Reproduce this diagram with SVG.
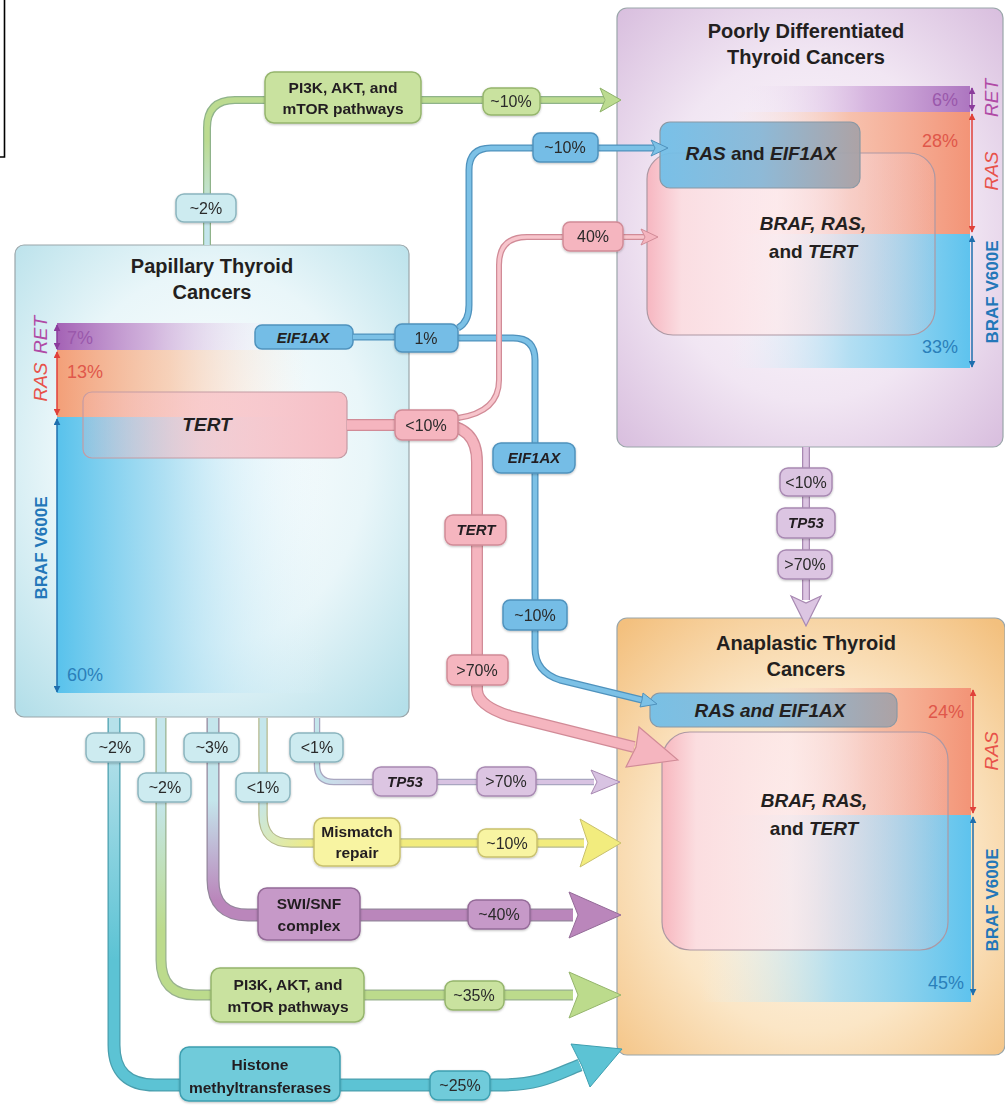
<svg xmlns="http://www.w3.org/2000/svg" xmlns:xlink="http://www.w3.org/1999/xlink" width="1005" height="1114" viewBox="0 0 1005 1114">
<defs>
<style>
text{font-family:"Liberation Sans",Arial,sans-serif;}
.title{font-size:20px;font-weight:bold;fill:#231f20;text-anchor:middle}
.lbl{font-size:16px;fill:#2a2a2a;text-anchor:middle}
.bl{font-size:15.5px;font-weight:bold;fill:#231f20;text-anchor:middle}
.bi{font-size:15px;font-weight:bold;font-style:italic;fill:#231f20;text-anchor:middle}
.big{font-size:19px;font-weight:bold;fill:#231f20;text-anchor:middle}
.pct{font-size:18px}
.vi{font-size:19px;font-style:italic;text-anchor:middle}
.vb{font-size:17px;font-weight:bold;text-anchor:middle}
.box{stroke:#9aa6aa;stroke-width:1.2}
.pc{fill:#cdebf0;stroke:#8bb5be;stroke-width:1.5}
.pb{fill:#74bde6;stroke:#4f92bd;stroke-width:1.5}
.pp{fill:#f5b5bf;stroke:#d18b97;stroke-width:1.5}
.pg{fill:#c9e29f;stroke:#95b56c;stroke-width:1.5}
.pl{fill:#dcc5e2;stroke:#a889b2;stroke-width:1.5}
.py{fill:#f8f4a2;stroke:#c9c16e;stroke-width:1.5}
.pv{fill:#c699c8;stroke:#946b98;stroke-width:1.5}
.pt{fill:#6fcbda;stroke:#3e9fb0;stroke-width:1.5}
.ln{fill:none;stroke-linecap:butt;stroke-linejoin:round}
</style>
<radialGradient id="gPtc" cx="50%" cy="45%" r="72%">
<stop offset="0" stop-color="#ffffff"/><stop offset="0.55" stop-color="#e9f6f9"/><stop offset="1" stop-color="#b4dfe9"/>
</radialGradient>
<radialGradient id="gPdtc" cx="50%" cy="50%" r="72%">
<stop offset="0" stop-color="#fdfafd"/><stop offset="0.55" stop-color="#f1e6f3"/><stop offset="1" stop-color="#d7bcdd"/>
</radialGradient>
<radialGradient id="gAtc" cx="50%" cy="55%" r="72%">
<stop offset="0" stop-color="#fef9f1"/><stop offset="0.55" stop-color="#fbe6c6"/><stop offset="1" stop-color="#f3c07e"/>
</radialGradient>
<linearGradient id="bRetL" x1="0" x2="1"><stop offset="0" stop-color="#a462b5"/><stop offset="0.4" stop-color="#c9a0d4" stop-opacity="0.8"/><stop offset="1" stop-color="#f3e8f6" stop-opacity="0"/></linearGradient>
<linearGradient id="bRasL" x1="0" x2="1"><stop offset="0" stop-color="#f39f78"/><stop offset="0.45" stop-color="#f7c7a9" stop-opacity="0.8"/><stop offset="1" stop-color="#fbe9dc" stop-opacity="0"/></linearGradient>
<linearGradient id="bBrafL" x1="0" x2="1"><stop offset="0" stop-color="#58c2ec"/><stop offset="0.4" stop-color="#a3dbf1" stop-opacity="0.85"/><stop offset="1" stop-color="#e5f5fb" stop-opacity="0"/></linearGradient>
<linearGradient id="bRetR" x1="1" x2="0"><stop offset="0" stop-color="#ad76c0"/><stop offset="0.45" stop-color="#cfa8da" stop-opacity="0.8"/><stop offset="1" stop-color="#f3e8f6" stop-opacity="0"/></linearGradient>
<linearGradient id="bRasR" x1="1" x2="0"><stop offset="0" stop-color="#f39477"/><stop offset="0.5" stop-color="#f7b9a0" stop-opacity="0.85"/><stop offset="1" stop-color="#fbe3da" stop-opacity="0"/></linearGradient>
<linearGradient id="bBrafR" x1="1" x2="0"><stop offset="0" stop-color="#5ec3ee"/><stop offset="0.5" stop-color="#a7dcf2" stop-opacity="0.85"/><stop offset="1" stop-color="#e6f5fb" stop-opacity="0"/></linearGradient>
<linearGradient id="gTert" x1="0" x2="1"><stop offset="0" stop-color="#f4b3bb" stop-opacity="0.2"/><stop offset="0.45" stop-color="#f8c4ca" stop-opacity="0.75"/><stop offset="1" stop-color="#f6bec5"/></linearGradient>
<linearGradient id="gBrt" x1="0" x2="1"><stop offset="0" stop-color="#f7b4be" stop-opacity="0.95"/><stop offset="0.12" stop-color="#fbdde1" stop-opacity="0.95"/><stop offset="0.45" stop-color="#fde9ec" stop-opacity="0.8"/><stop offset="1" stop-color="#f1c9d2" stop-opacity="0.15"/></linearGradient>
<linearGradient id="gRe" x1="0" x2="1"><stop offset="0" stop-color="#72bfe8"/><stop offset="0.5" stop-color="#88b7d6"/><stop offset="1" stop-color="#a9a1a5"/></linearGradient>
<linearGradient id="lnTop" gradientUnits="userSpaceOnUse" x1="0" y1="215" x2="0" y2="140"><stop offset="0" stop-color="#c4e6ec"/><stop offset="1" stop-color="#bcdb90"/></linearGradient>
<linearGradient id="lnTp" gradientUnits="userSpaceOnUse" x1="317" y1="770" x2="380" y2="782"><stop offset="0" stop-color="#c4e6ec"/><stop offset="1" stop-color="#d8c3e2"/></linearGradient>
<linearGradient id="lnMm" gradientUnits="userSpaceOnUse" x1="263" y1="795" x2="320" y2="843"><stop offset="0" stop-color="#c4e6ec"/><stop offset="1" stop-color="#f2ec7e"/></linearGradient>
<linearGradient id="lnSw" gradientUnits="userSpaceOnUse" x1="0" y1="800" x2="0" y2="900"><stop offset="0" stop-color="#c4e6ec"/><stop offset="1" stop-color="#ba86bb"/></linearGradient>
<linearGradient id="lnPi" gradientUnits="userSpaceOnUse" x1="0" y1="800" x2="0" y2="930"><stop offset="0" stop-color="#c4e6ec"/><stop offset="1" stop-color="#bcdb8c"/></linearGradient>
<linearGradient id="lnHi" gradientUnits="userSpaceOnUse" x1="0" y1="740" x2="0" y2="960"><stop offset="0" stop-color="#b6e1ea"/><stop offset="1" stop-color="#5cc3d4"/></linearGradient>
<marker id="mRet" viewBox="0 0 10 10" refX="9" refY="5" markerWidth="7" markerHeight="7" markerUnits="userSpaceOnUse" orient="auto-start-reverse"><path d="M0,0 L10,5 L0,10 z" fill="#8b3c9c"/></marker>
<marker id="mRas" viewBox="0 0 10 10" refX="9" refY="5" markerWidth="7" markerHeight="7" markerUnits="userSpaceOnUse" orient="auto-start-reverse"><path d="M0,0 L10,5 L0,10 z" fill="#e0413a"/></marker>
<marker id="mBraf" viewBox="0 0 10 10" refX="9" refY="5" markerWidth="7" markerHeight="7" markerUnits="userSpaceOnUse" orient="auto-start-reverse"><path d="M0,0 L10,5 L0,10 z" fill="#1f6fae"/></marker>
<filter id="sh" x="-10%" y="-10%" width="120%" height="130%"><feDropShadow dx="0" dy="1" stdDeviation="1.2" flood-color="#000" flood-opacity="0.25"/></filter>
<path id="c1" d="M207,245 V128 Q207,100 235,100 H604"/>
<path id="c0" d="M353,337 H395"/>
<path id="c2" d="M458,328 Q469,322 469,305 V170 Q469,148 491,148 H655"/>
<path id="c3" d="M458,338 H513 Q535,338 535,360 V648 Q535,672 560,680 L642,700"/>
<path id="c4" d="M458,418 Q499,412 499,380 V265 Q499,237 527,237 H646"/>
<path id="c5" d="M347,425 H440 Q477,425 477,462 V690 Q478,706 510,716 L634,747"/>
<path id="c6" d="M806,447 V600"/>
<path id="c7" d="M317,718 V765 Q317,782 334,782 H594"/>
<path id="c8" d="M263,718 V815 Q263,843 291,843 H584"/>
<path id="c9" d="M213,718 V880 Q213,915 248,915 H573"/>
<path id="c10" d="M161,718 V960 Q161,995 196,995 H573"/>
<path id="c11" d="M114,718 V1045 Q114,1085 155,1085 H500 C540,1085 555,1075 580,1065"/>
</defs>

<rect width="1005" height="1114" fill="#ffffff"/>
<path d="M0,157 H4.5 V0" fill="none" stroke="#000" stroke-width="1.6"/>

<!-- Cancer boxes -->
<g id="ptc">
<rect class="box" x="15" y="245" width="394" height="472" rx="9" fill="url(#gPtc)"/>
<text class="title" x="212" y="273">Papillary Thyroid</text>
<text class="title" x="212" y="299">Cancers</text>
<rect x="57" y="323" width="230" height="27" fill="url(#bRetL)"/>
<rect x="57" y="350" width="250" height="67" fill="url(#bRasL)"/>
<rect x="57" y="417" width="270" height="276" fill="url(#bBrafL)"/>
<line x1="57" y1="325" x2="57" y2="349" stroke="#8b3c9c" stroke-width="1.5" marker-start="url(#mRet)" marker-end="url(#mRet)"/>
<line x1="57" y1="352" x2="57" y2="415" stroke="#e0413a" stroke-width="1.5" marker-start="url(#mRas)" marker-end="url(#mRas)"/>
<line x1="57" y1="419" x2="57" y2="692" stroke="#1f6fae" stroke-width="1.5" marker-start="url(#mBraf)" marker-end="url(#mBraf)"/>
<text class="pct" x="67" y="344" fill="#9a58ab">7%</text>
<text class="pct" x="67" y="378" fill="#e0574a">13%</text>
<text class="pct" x="67" y="681" fill="#2a7fba">60%</text>
<text class="vi" transform="translate(47,335) rotate(-90)" fill="#b04aa6">RET</text>
<text class="vi" transform="translate(47,382) rotate(-90)" fill="#e8524a">RAS</text>
<text class="vb" transform="translate(47,548) rotate(-90)" fill="#2377b9">BRAF V600E</text>
</g>

<g id="ptc-tert">
<rect x="83" y="392" width="264" height="66" rx="9" fill="url(#gTert)" stroke="#c49ba4" stroke-width="1.2"/>
<text class="big" x="207" y="431" font-style="italic" font-size="20">TERT</text>
</g>
<g id="ptc-eif1ax">
<rect class="pb" x="255" y="325" width="98" height="24" rx="7"/>
<text class="bi" x="303" y="343" font-size="16">EIF1AX</text>
</g>

<g id="pdtc">
<rect class="box" x="617" y="8" width="386" height="439" rx="10" fill="url(#gPdtc)"/>
<text class="title" x="806" y="38">Poorly Differentiated</text>
<text class="title" x="806" y="64">Thyroid Cancers</text>
<rect x="740" y="86" width="230" height="26" fill="url(#bRetR)"/>
<rect x="730" y="112" width="240" height="122" fill="url(#bRasR)"/>
<rect x="730" y="234" width="240" height="134" fill="url(#bBrafR)"/>
<line x1="972" y1="88" x2="972" y2="111" stroke="#8b3c9c" stroke-width="1.5" marker-start="url(#mRet)" marker-end="url(#mRet)"/>
<line x1="972" y1="114" x2="972" y2="232" stroke="#e0413a" stroke-width="1.5" marker-start="url(#mRas)" marker-end="url(#mRas)"/>
<line x1="972" y1="236" x2="972" y2="367" stroke="#1f6fae" stroke-width="1.5" marker-start="url(#mBraf)" marker-end="url(#mBraf)"/>
<text class="pct" x="958" y="106" fill="#9a58ab" text-anchor="end">6%</text>
<text class="pct" x="958" y="147" fill="#e0574a" text-anchor="end">28%</text>
<text class="pct" x="958" y="353" fill="#2a7fba" text-anchor="end">33%</text>
<text class="vi" transform="translate(998,98) rotate(-90)" fill="#b04aa6">RET</text>
<text class="vi" transform="translate(998,171) rotate(-90)" fill="#e8524a">RAS</text>
<text class="vb" transform="translate(998,292) rotate(-90)" fill="#2377b9">BRAF V600E</text>
</g>
<g id="pdtc-braf">
<rect x="647" y="153" width="288" height="182" rx="26" fill="url(#gBrt)" stroke="#ad98a3" stroke-width="1.2"/>
<text class="big" x="813" y="230" font-style="italic">BRAF, RAS,</text>
<text class="big" x="813" y="258">and <tspan font-style="italic">TERT</tspan></text>
</g>
<g id="pdtc-ras">
<rect x="660" y="122" width="200" height="66" rx="10" fill="url(#gRe)" fill-opacity="0.95" stroke="#8a98a4" stroke-width="1.2"/>
<text class="big" x="761" y="160" font-size="17"><tspan font-style="italic">RAS</tspan> and <tspan font-style="italic">EIF1AX</tspan></text>
</g>

<g id="atc">
<rect class="box" x="617" y="618" width="388" height="437" rx="10" fill="url(#gAtc)"/>
<text class="title" x="806" y="650">Anaplastic Thyroid</text>
<text class="title" x="806" y="676">Cancers</text>
<rect x="760" y="688" width="211" height="127" fill="url(#bRasR)"/>
<rect x="700" y="815" width="271" height="187" fill="url(#bBrafR)"/>
<line x1="973" y1="690" x2="973" y2="813" stroke="#e0413a" stroke-width="1.5" marker-start="url(#mRas)" marker-end="url(#mRas)"/>
<line x1="973" y1="817" x2="973" y2="995" stroke="#1f6fae" stroke-width="1.5" marker-start="url(#mBraf)" marker-end="url(#mBraf)"/>
<text class="pct" x="964" y="718" fill="#e0574a" text-anchor="end">24%</text>
<text class="pct" x="964" y="989" fill="#2a7fba" text-anchor="end">45%</text>
<text class="vi" transform="translate(998,751) rotate(-90)" fill="#e8524a">RAS</text>
<text class="vb" transform="translate(998,900) rotate(-90)" fill="#2377b9">BRAF V600E</text>
</g>
<g id="atc-braf">
<rect x="662" y="732" width="286" height="218" rx="28" fill="url(#gBrt)" stroke="#ad98a3" stroke-width="1.2"/>
<text class="big" x="814" y="807" font-style="italic">BRAF, RAS,</text>
<text class="big" x="814" y="835">and <tspan font-style="italic">TERT</tspan></text>
</g>
<g id="atc-ras">
<rect x="650" y="693" width="247" height="34" rx="10" fill="url(#gRe)" fill-opacity="0.95" stroke="#8a98a4" stroke-width="1.2"/>
<text class="big" x="770" y="717" font-size="17" font-style="italic">RAS and EIF1AX</text>
</g>

<!-- Connectors -->
<g id="connectors">
<use xlink:href="#c1" class="ln" stroke="#8fb38a" stroke-width="8"/>
<use xlink:href="#c1" class="ln" stroke="url(#lnTop)" stroke-width="5.5"/>
<polygon points="621,100 600,88 605,100 600,112" fill="#bcdb90" stroke="#8fb36a" stroke-width="1"/>

<use xlink:href="#c0" class="ln" stroke="#4f92bd" stroke-width="7"/>
<use xlink:href="#c0" class="ln" stroke="#7cc1e6" stroke-width="4.5"/>
<use xlink:href="#c2" class="ln" stroke="#4f92bd" stroke-width="7"/>
<use xlink:href="#c2" class="ln" stroke="#7cc1e6" stroke-width="4.5"/>
<polygon points="668,148 651,140 655,148 651,156" fill="#7cc1e6" stroke="#4f92bd" stroke-width="1"/>
<use xlink:href="#c3" class="ln" stroke="#4f92bd" stroke-width="7"/>
<use xlink:href="#c3" class="ln" stroke="#7cc1e6" stroke-width="4.5"/>
<polygon points="657,704 640,707 642,700 643,693" fill="#7cc1e6" stroke="#4f92bd" stroke-width="1"/>

<use xlink:href="#c4" class="ln" stroke="#d18b97" stroke-width="6"/>
<use xlink:href="#c4" class="ln" stroke="#f7c5cc" stroke-width="3.5"/>
<polygon points="658,237 641,229 645,237 641,245" fill="#f5b5bf" stroke="#d18b97" stroke-width="1"/>
<use xlink:href="#c5" class="ln" stroke="#d18b97" stroke-width="12"/>
<use xlink:href="#c5" class="ln" stroke="#f5b5bf" stroke-width="9.5"/>
<polygon points="678,760 626,767 636,747 639,727" fill="#f5b5bf" stroke="#d18b97" stroke-width="1.2"/>

<use xlink:href="#c6" class="ln" stroke="#a889b2" stroke-width="8"/>
<use xlink:href="#c6" class="ln" stroke="#dcc5e2" stroke-width="5.5"/>
<polygon points="806,626 791,596 806,603 821,596" fill="#dcc5e2" stroke="#a889b2" stroke-width="1.2"/>

<use xlink:href="#c7" class="ln" stroke="#a9a6c0" stroke-width="6.5"/>
<use xlink:href="#c7" class="ln" stroke="url(#lnTp)" stroke-width="4"/>
<polygon points="620,782 591,770 597,782 591,794" fill="#d8c3e2" stroke="#a889b2" stroke-width="1"/>
<use xlink:href="#c8" class="ln" stroke="#b5b98e" stroke-width="9.5"/>
<use xlink:href="#c8" class="ln" stroke="url(#lnMm)" stroke-width="7"/>
<polygon points="621,843 580,819 588,843 580,867" fill="#f2ec7e" stroke="#c9c16e" stroke-width="1"/>
<use xlink:href="#c9" class="ln" stroke="#94869c" stroke-width="13"/>
<use xlink:href="#c9" class="ln" stroke="url(#lnSw)" stroke-width="10.5"/>
<polygon points="621,915 569,892 578,915 569,938" fill="#ba86bb" stroke="#946b98" stroke-width="1"/>
<use xlink:href="#c10" class="ln" stroke="#99b28f" stroke-width="11"/>
<use xlink:href="#c10" class="ln" stroke="url(#lnPi)" stroke-width="8.5"/>
<polygon points="621,995 569,972 578,995 569,1018" fill="#bcdb8c" stroke="#95b56c" stroke-width="1"/>
<use xlink:href="#c11" class="ln" stroke="#4a9fae" stroke-width="13"/>
<use xlink:href="#c11" class="ln" stroke="url(#lnHi)" stroke-width="10.5"/>
<polygon points="622,1049 571,1044 582,1066 590,1087" fill="#5cc3d4" stroke="#3e9fb0" stroke-width="1"/>
</g>

<!-- Label nodes -->
<g id="top-pi3k" filter="url(#sh)"><rect class="pg" x="265" y="72" width="156" height="51" rx="9"/><text class="bl" x="343" y="93">PI3K, AKT, and</text><text class="bl" x="343" y="114">mTOR pathways</text></g>
<g id="top-10" filter="url(#sh)"><rect class="pg" x="483" y="88" width="57" height="27" rx="8"/><text class="lbl" x="511" y="107">~10%</text></g>
<g id="top-2" filter="url(#sh)"><rect class="pc" x="176" y="194" width="60" height="28" rx="8"/><text class="lbl" x="206" y="214">~2%</text></g>
<g id="blue-10" filter="url(#sh)"><rect class="pb" x="533" y="133" width="65" height="29" rx="7"/><text class="lbl" x="565" y="153">~10%</text></g>
<g id="pink-40" filter="url(#sh)"><rect class="pp" x="563" y="222" width="60" height="29" rx="7"/><text class="lbl" x="593" y="242">40%</text></g>
<g id="blue-1" filter="url(#sh)"><rect class="pb" x="395" y="324" width="63" height="28" rx="7"/><text class="lbl" x="426" y="344">1%</text></g>
<g id="pink-lt10" filter="url(#sh)"><rect class="pp" x="395" y="410" width="63" height="30" rx="7"/><text class="lbl" x="426" y="431">&lt;10%</text></g>
<g id="blue-eif1ax" filter="url(#sh)"><rect class="pb" x="493" y="443" width="82" height="30" rx="8"/><text class="bi" x="534" y="463">EIF1AX</text></g>
<g id="pink-tert" filter="url(#sh)"><rect class="pp" x="445" y="515" width="61" height="30" rx="8"/><text class="bi" x="476" y="535">TERT</text></g>
<g id="blue-10b" filter="url(#sh)"><rect class="pb" x="503" y="600" width="64" height="30" rx="7"/><text class="lbl" x="535" y="621">~10%</text></g>
<g id="pink-70" filter="url(#sh)"><rect class="pp" x="447" y="655" width="61" height="30" rx="7"/><text class="lbl" x="477" y="676">&gt;70%</text></g>
<g id="pd-lt10" filter="url(#sh)"><rect class="pl" x="780" y="468" width="52" height="28" rx="8"/><text class="lbl" x="806" y="488">&lt;10%</text></g>
<g id="pd-tp53" filter="url(#sh)"><rect class="pl" x="777" y="508" width="58" height="30" rx="8"/><text class="bi" x="806" y="528">TP53</text></g>
<g id="pd-70" filter="url(#sh)"><rect class="pl" x="778" y="550" width="54" height="29" rx="8"/><text class="lbl" x="805" y="570">&gt;70%</text></g>
<g id="b-2a" filter="url(#sh)"><rect class="pc" x="86" y="733" width="58" height="29" rx="8"/><text class="lbl" x="115" y="753">~2%</text></g>
<g id="b-3" filter="url(#sh)"><rect class="pc" x="184" y="733" width="55" height="29" rx="8"/><text class="lbl" x="212" y="753">~3%</text></g>
<g id="b-1a" filter="url(#sh)"><rect class="pc" x="290" y="733" width="53" height="29" rx="8"/><text class="lbl" x="317" y="753">&lt;1%</text></g>
<g id="b-2b" filter="url(#sh)"><rect class="pc" x="138" y="773" width="53" height="29" rx="8"/><text class="lbl" x="165" y="793">~2%</text></g>
<g id="b-1b" filter="url(#sh)"><rect class="pc" x="236" y="773" width="54" height="29" rx="8"/><text class="lbl" x="263" y="793">&lt;1%</text></g>
<g id="b-tp53" filter="url(#sh)"><rect class="pl" x="373" y="767" width="64" height="29" rx="8"/><text class="bi" x="405" y="787">TP53</text></g>
<g id="b-70" filter="url(#sh)"><rect class="pl" x="477" y="767" width="59" height="29" rx="8"/><text class="lbl" x="506" y="787">&gt;70%</text></g>
<g id="b-mm" filter="url(#sh)"><rect class="py" x="314" y="818" width="86" height="48" rx="9"/><text class="bl" x="357" y="837">Mismatch</text><text class="bl" x="357" y="858">repair</text></g>
<g id="b-mm10" filter="url(#sh)"><rect class="py" x="478" y="829" width="59" height="28" rx="8"/><text class="lbl" x="507" y="849">~10%</text></g>
<g id="b-sw" filter="url(#sh)"><rect class="pv" x="258" y="888" width="102" height="52" rx="9"/><text class="bl" x="309" y="909">SWI/SNF</text><text class="bl" x="309" y="931">complex</text></g>
<g id="b-sw40" filter="url(#sh)"><rect class="pv" x="468" y="900" width="62" height="29" rx="8"/><text class="lbl" x="499" y="920">~40%</text></g>
<g id="b-pi" filter="url(#sh)"><rect class="pg" x="211" y="968" width="153" height="54" rx="9"/><text class="bl" x="288" y="990">PI3K, AKT, and</text><text class="bl" x="288" y="1012">mTOR pathways</text></g>
<g id="b-pi35" filter="url(#sh)"><rect class="pg" x="445" y="981" width="59" height="29" rx="8"/><text class="lbl" x="474" y="1001">~35%</text></g>
<g id="b-hi" filter="url(#sh)"><rect class="pt" x="180" y="1047" width="160" height="54" rx="9"/><text class="bl" x="260" y="1070">Histone</text><text class="bl" x="260" y="1093">methyltransferases</text></g>
<g id="b-hi25" filter="url(#sh)"><rect class="pt" x="430" y="1071" width="60" height="29" rx="8"/><text class="lbl" x="460" y="1091">~25%</text></g>
</svg>
